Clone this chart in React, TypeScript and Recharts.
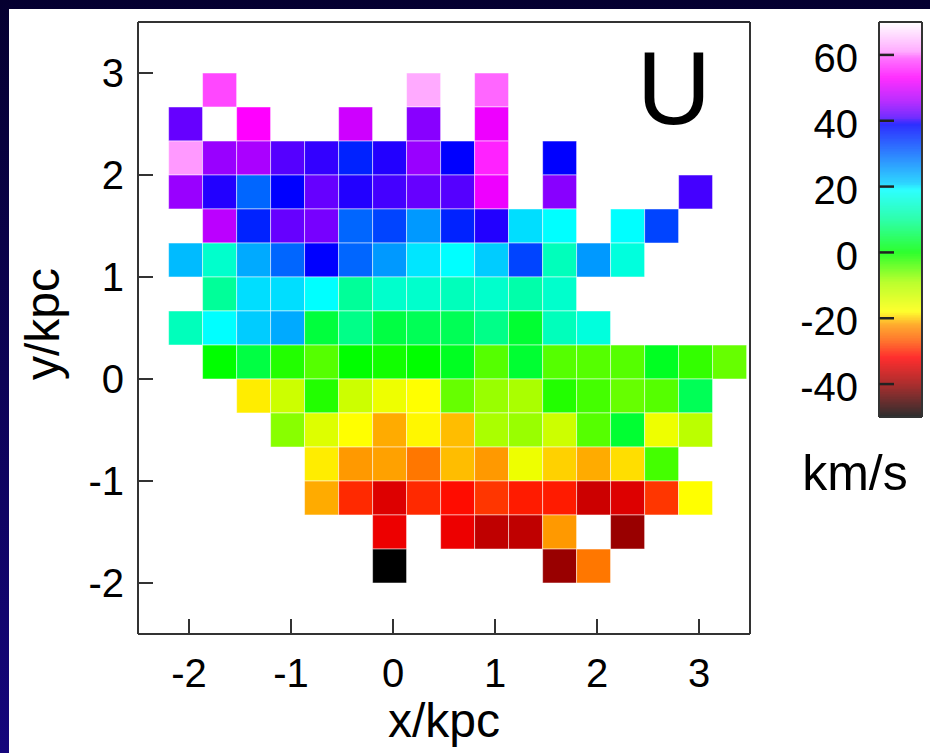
import React from 'react';
import { ScatterChart, ComposedChart, Scatter, XAxis, YAxis, ReferenceArea } from 'recharts';

// ---- bins (kpc) ----
const xBinEdges = [-2.2, -1.867, -1.533, -1.2, -0.867, -0.533, -0.2, 0.133, 0.467, 0.8, 1.133, 1.467, 1.8, 2.133, 2.467, 2.8, 3.133, 3.467];
const yBinEdges = [3, 2.667, 2.333, 2, 1.667, 1.333, 1, 0.667, 0.333, 0, -0.333, -0.667, -1, -1.333, -1.667, -2];
const xTicks = [-2, -1, 0, 1, 2, 3];
const yTicks = [-2, -1, 0, 1, 2, 3];
const colorbarTicks = [-40, -20, 0, 20, 40, 60];
const colorbarRange = [-50, 70];

// ---- U velocity (km/s), rows from top (y = 3) to bottom (y = -2), 17 columns each ----
const _ = null;
const uRow0 = [_, 58, _, _, _, _, _, 62.5, _, 59.5, _, _, _, _, _, _, _];
const uRow1 = [42, _, 53, _, _, 49, _, 44, _, 51.6, _, _, _, _, _, _, _];
const uRow2 = [61, 45, 46, 41, 40.2, 36, 39.8, 45, 39, 55.4, _, 39, _, _, _, _, _];
const uRow3 = [45, 39.8, 30, 39, 42, 39.8, 40.6, 42, 41, 51.6, _, 44, _, _, _, 40.6, _];
const uRow4 = [_, 47.4, 36, 42, 43, 30, 33, 25.5, 36, 39.8, 20.3, 19, _, 19, 33, _, _];
const uRow5 = [22.5, 14.5, 24, 30, 39, 30, 25.5, 20, 19, 21, 33, 13, 25.5, 16, _, _, _];
const uRow6 = [_, 10, 20.3, 20.3, 19, 10, 14.5, 14.5, 13, 14.5, 11.5, 14.5, _, _, _, _, _];
const uRow7 = [13, 19, 21, 24, 4, 8.9, 4.4, 5.6, 5.6, 8.9, 3.3, 13, 16, _, _, _, _];
const uRow8 = [_, 0, 4.4, -1.8, -4.5, 0, -0.9, 0, 2.2, -4.5, 3.3, -4.5, -4.5, -4.5, 2.2, -2.7, -5.4];
const uRow9 = [_, _, -18.7, -12.6, -1.8, -12.6, -16.2, -18, -5.4, -8.1, -9, -1.8, -3.6, -5.4, -4.5, 5.6, _];
const uRow10 = [_, _, _, -7.2, -14.4, -18, -21.3, -18.3, -20.6, -9, -8.1, -12.6, -4.5, 3.3, -16.2, -10.8, _];
const uRow11 = [_, _, _, _, -18.7, -22, -21.7, -24.5, -20.6, -22, -16.2, -19.8, -21.3, -19.3, -3.6, _, _];
const uRow12 = [_, _, _, _, -21.3, -29.6, -34.7, -29.6, -31.3, -28.8, -30.4, -30.4, -36, -34.7, -28.8, -18, _];
const uRow13 = [_, _, _, _, _, _, -33.4, _, -33.4, -37, -37, -22, _, -40, _, _, _];
const uRow14 = [_, _, _, _, _, _, -50, _, _, _, _, -40, -24.5, _, _, _, _];
const uRows = [uRow0, uRow1, uRow2, uRow3, uRow4, uRow5, uRow6, uRow7, uRow8, uRow9, uRow10, uRow11, uRow12, uRow13, uRow14];

// ---- palette ----
const paletteStops: [number, string][] = [
  [-50, '#000000'], [-40, '#990000'], [-36, '#cc0000'], [-32, '#ff0000'], [-27, '#ff5500'],
  [-22, '#ff9900'], [-20, '#ffcc00'], [-18, '#ffff00'], [-9, '#aaff00'], [0, '#00ff00'],
  [10, '#00ff99'], [19, '#00ffff'], [21, '#00ccff'], [30, '#0066ff'], [39, '#0000ff'],
  [41, '#5500ff'], [46, '#aa00ff'], [53, '#ff00ff'], [59, '#ff55ff'], [61, '#ff99ff'], [70, '#ffffff'],
];

function hexRgb(h: string): number[] {
  return [parseInt(h.slice(1, 3), 16), parseInt(h.slice(3, 5), 16), parseInt(h.slice(5, 7), 16)];
}

function uColor(v: number, wash = 0): string {
  const lo = paletteStops[0][0];
  const hi = paletteStops[paletteStops.length - 1][0];
  const t = Math.max(lo, Math.min(hi, v));
  let i = 0;
  while (i < paletteStops.length - 2 && t > paletteStops[i + 1][0]) i++;
  const [v0, c0] = paletteStops[i];
  const [v1, c1] = paletteStops[i + 1];
  const f = v1 === v0 ? 0 : (t - v0) / (v1 - v0);
  const a = hexRgb(c0);
  const b = hexRgb(c1);
  const rgb = a.map((x, k) => {
    const m = x + (b[k] - x) * f;
    return Math.round(m * (1 - wash) + 255 * wash);
  });
  return `rgb(${rgb[0]},${rgb[1]},${rgb[2]})`;
}

type Cell = { x1: number; x2: number; y1: number; y2: number; xc: number; yc: number; u: number };
const cells: Cell[] = [];
uRows.forEach((row, r) => {
  row.forEach((u, c) => {
    if (u === null || u === undefined) return;
    const x1 = xBinEdges[c];
    const x2 = xBinEdges[c + 1];
    const y2 = yBinEdges[r];
    const y1 = yBinEdges[r + 1];
    cells.push({ x1, x2, y1, y2, xc: (x1 + x2) / 2, yc: (y1 + y2) / 2, u });
  });
});

// colour-bar gradient slices (legend only)
const barSlices: { lo: number; hi: number; mid: number; x: number }[] = [];
for (let v = colorbarRange[0]; v < colorbarRange[1]; v += 0.5) {
  barSlices.push({ lo: v, hi: Math.min(colorbarRange[1], v + 0.8), mid: v + 0.25, x: 0.5 });
}

const FONT = '"Liberation Sans", Arial, Helvetica, sans-serif';
const FRAME = '#333333';

const Nothing = () => <g />;

export default function App() {
  return (
    <div
      style={{
        position: 'fixed',
        left: 0,
        top: 0,
        width: 930,
        height: 753,
        overflow: 'hidden',
        background: 'linear-gradient(#050030, #15067c)',
        fontFamily: FONT,
      }}
    >
      <div style={{ position: 'absolute', left: 9, top: 9, right: 0, bottom: 0, background: '#ffffff' }} />
      <div style={{ position: 'absolute', left: 0, top: 0 }}>
        <ScatterChart width={930} height={753} margin={{ top: 21, right: 179, bottom: 58, left: 78 }}>
          <XAxis
            xAxisId="b"
            type="number"
            dataKey="xc"
            domain={[-2.5, 3.5]}
            ticks={xTicks}
            interval={0}
            allowDataOverflow
            orientation="bottom"
            height={61}
            tickSize={-15}
            tickMargin={40}
            axisLine={{ stroke: FRAME, strokeWidth: 2 }}
            tickLine={{ stroke: FRAME, strokeWidth: 2 }}
            tick={{ fontSize: 40, fill: '#000', fontFamily: FONT }}
            label={{
              content: () => (
                <text x={444} y={737} textAnchor="middle" fontSize={48} fill="#000" fontFamily={FONT}>
                  x/kpc
                </text>
              ),
            }}
          />
          <XAxis
            xAxisId="t"
            type="number"
            domain={[-2.5, 3.5]}
            ticks={xTicks}
            interval={0}
            allowDataOverflow
            orientation="top"
            height={1}
            tickSize={-15}
            axisLine={{ stroke: FRAME, strokeWidth: 2 }}
            tickLine={{ stroke: FRAME, strokeWidth: 2 }}
            tick={false}
            label={{
              content: () => (
                <text x={674} y={124} textAnchor="middle" fontSize={103} fill="#000" fontFamily={FONT}>
                  U
                </text>
              ),
            }}
          />
          <YAxis
            yAxisId="l"
            type="number"
            dataKey="yc"
            domain={[-2.5, 3.5]}
            ticks={yTicks}
            interval={0}
            allowDataOverflow
            orientation="left"
            width={60}
            tickSize={-15}
            tickMargin={29}
            axisLine={{ stroke: FRAME, strokeWidth: 2 }}
            tickLine={{ stroke: FRAME, strokeWidth: 2 }}
            tick={{ fontSize: 40, fill: '#000', fontFamily: FONT }}
            label={{
              content: () => (
                <text
                  x={59}
                  y={324}
                  transform="rotate(-90 59 324)"
                  textAnchor="middle"
                  fontSize={48}
                  fill="#000"
                  fontFamily={FONT}
                >
                  y/kpc
                </text>
              ),
            }}
          />
          <YAxis
            yAxisId="r"
            type="number"
            domain={[-2.5, 3.5]}
            ticks={yTicks}
            interval={0}
            allowDataOverflow
            orientation="right"
            width={1}
            tickSize={-15}
            axisLine={{ stroke: FRAME, strokeWidth: 2 }}
            tickLine={{ stroke: FRAME, strokeWidth: 2 }}
            tick={false}
          />
          {cells.map((c, i) => (
            <ReferenceArea
              key={i}
              xAxisId="b"
              yAxisId="l"
              x1={c.x1}
              x2={c.x2}
              y1={c.y1}
              y2={c.y2}
              fill={uColor(c.u)}
              fillOpacity={1}
              stroke="#ffffff"
              strokeOpacity={0.5}
              strokeWidth={1}
              ifOverflow="visible"
            />
          ))}
          <Scatter xAxisId="b" yAxisId="l" data={cells} dataKey="yc" isAnimationActive={false} shape={Nothing} />
        </ScatterChart>
      </div>
      <div style={{ position: 'absolute', left: 760, top: 0 }}>
        <ComposedChart width={170} height={753} margin={{ top: 21, right: 7, bottom: 335, left: 0 }} data={barSlices}>
          <XAxis
            xAxisId="b"
            type="number"
            dataKey="x"
            domain={[0, 1]}
            orientation="bottom"
            height={1}
            axisLine={{ stroke: FRAME, strokeWidth: 2 }}
            tickLine={false}
            tick={false}
            label={{
              content: () => (
                <text x={95} y={490} textAnchor="middle" fontSize={50} fill="#000" fontFamily={FONT}>
                  km/s
                </text>
              ),
            }}
          />
          <XAxis
            xAxisId="t"
            type="number"
            domain={[0, 1]}
            orientation="top"
            height={1}
            axisLine={{ stroke: FRAME, strokeWidth: 2 }}
            tickLine={false}
            tick={false}
          />
          {barSlices.map((s, i) => (
            <ReferenceArea
              key={i}
              xAxisId="b"
              yAxisId="l"
              x1={0}
              x2={1}
              y1={s.lo}
              y2={s.hi}
              fill={uColor(s.mid, 0.18)}
              fillOpacity={1}
              stroke="none"
              ifOverflow="visible"
            />
          ))}
          <YAxis
            yAxisId="l"
            type="number"
            dataKey="mid"
            domain={colorbarRange}
            ticks={colorbarTicks}
            interval={0}
            allowDataOverflow
            orientation="left"
            width={119}
            tickSize={-15}
            tickMargin={36}
            axisLine={{ stroke: FRAME, strokeWidth: 2 }}
            tickLine={{ stroke: '#222', strokeWidth: 2.5 }}
            tick={{ fontSize: 40, fill: '#000', fontFamily: FONT, dy: 3 }}
          />
          <YAxis
            yAxisId="r"
            type="number"
            domain={colorbarRange}
            ticks={colorbarTicks}
            interval={0}
            allowDataOverflow
            orientation="right"
            width={1}
            tickSize={-15}
            axisLine={{ stroke: FRAME, strokeWidth: 2 }}
            tickLine={{ stroke: '#222', strokeWidth: 2.5 }}
            tick={false}
          />
          <Scatter xAxisId="b" yAxisId="l" dataKey="mid" isAnimationActive={false} shape={Nothing} />
        </ComposedChart>
      </div>
    </div>
  );
}
